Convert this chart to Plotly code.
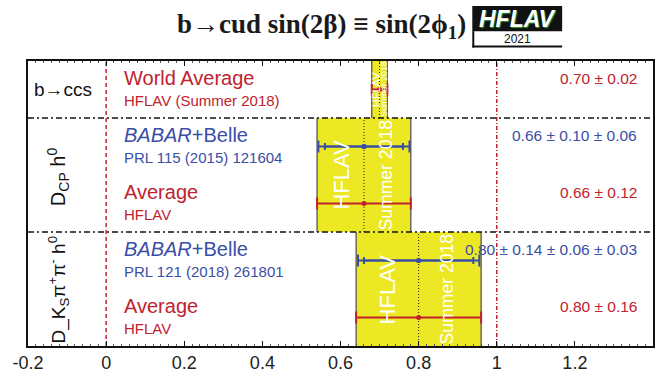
import math
import plotly.graph_objects as go

# ---------------- data ----------------
section_labels = ["b→ccs",
                  "D<sub>CP</sub> h<sup>0</sup>",
                  "D_K<sub>S</sub>π<sup>+</sup>π<sup>-</sup> h<sup>0</sup>"]
section_sizes = [1, 2, 2]
section_rotated = [False, True, True]

meas_titles = ["World Average", "<i>BABAR</i>+Belle", "Average", "<i>BABAR</i>+Belle", "Average"]
meas_refs = ["HFLAV (Summer 2018)", "PRL 115 (2015) 121604", "HFLAV", "PRL 121 (2018) 261801", "HFLAV"]
meas_value = [0.70, 0.66, 0.66, 0.80, 0.80]
meas_stat = [0.02, 0.10, 0.12, 0.14, 0.16]
meas_syst = [[], [0.06], [], [0.06, 0.03], []]
meas_kind = ["avg", "exp", "avg", "exp", "avg"]
meas_text = ["0.70 ± 0.02", "0.66 ± 0.10 ± 0.06", "0.66 ± 0.12",
             "0.80 ± 0.14 ± 0.06 ± 0.03", "0.80 ± 0.16"]

band_value = [0.70, 0.66, 0.80]
band_error = [0.02, 0.12, 0.16]
band_labels = ["HFLAV", "Summer 2018"]

x_ticks = [-0.2, 0, 0.2, 0.4, 0.6, 0.8, 1.0, 1.2]
x_tick_text = ["-0.2", "0", "0.2", "0.4", "0.6", "0.8", "1", "1.2"]
ref_lines = [0, 1]

# ---------------- styles ----------------
RED = "#c0222e"
BLUE = "#3a4ea6"
YELLOW = "#ede824"
SANS = "Liberation Sans, Arial, sans-serif"
XMIN, XMAX = -0.2, 1.4
NROWS = sum(section_sizes)

fig = go.Figure()
shapes = []
ann = []


def note(**kw):
    kw.setdefault("showarrow", False)
    kw.setdefault("xanchor", "center")
    kw.setdefault("yanchor", "middle")
    ann.append(kw)


# section boundaries
bounds = []
top = NROWS
for s in section_sizes:
    bounds.append((top - s, top))
    top -= s

# yellow bands
for (y0, y1), v, e, s in zip(bounds, band_value, band_error, section_sizes):
    shapes.append(dict(type="rect", xref="x", yref="y", x0=v - e, x1=v + e, y0=y0, y1=y1,
                       fillcolor=YELLOW, line=dict(width=0), layer="below"))
    for xe in (v - e, v + e):
        shapes.append(dict(type="line", xref="x", yref="y", x0=xe, x1=xe, y0=y0, y1=y1,
                           line=dict(color="#555555", width=1.3), layer="below"))
    shapes.append(dict(type="line", xref="x", yref="y", x0=v, x1=v, y0=y0, y1=y1,
                       line=dict(color="#222222", width=1, dash="1px,2px"), layer="below"))
    w = 2 * e
    ym = (y0 + y1) / 2
    note(x=v - e + 0.25 * w, y=ym, xref="x", yref="y", text=band_labels[0], textangle=-90,
         font=dict(family=SANS, size=11 * s, color="white"))
    note(x=v - e + 0.73 * w, y=ym, xref="x", yref="y", text=band_labels[1], textangle=-90,
         font=dict(family=SANS, size=8.8 * s, color="white"))

# reference vertical lines
for xr, d in zip(ref_lines, ["4px,3px", "4px,2px,1px,2px"]):
    shapes.append(dict(type="line", xref="x", yref="y", x0=xr, x1=xr, y0=0, y1=NROWS,
                       line=dict(color=RED, width=1.5, dash=d), layer="below"))

# separators
for (y0, y1) in bounds[:-1]:
    shapes.append(dict(type="line", xref="x", yref="y", x0=XMIN, x1=XMAX, y0=y0, y1=y0,
                       line=dict(color="#111111", width=1.4, dash="6px,3px,2px,3px"),
                       layer="above"))

# section labels
label_shift = [0.0, -0.03, 0.0]
label_size = [19, 20, 19]
for (y0, y1), lab, rot, sh, fs in zip(bounds, section_labels, section_rotated, label_shift, label_size):
    note(x=-0.11 if not rot else -0.122, y=(y0 + y1) / 2 + sh, xref="x", yref="y",
         text=lab, textangle=-90 if rot else 0,
         font=dict(family=SANS, size=fs, color="#111111"))

# measurements
for i, (v, st, sy, kind) in enumerate(zip(meas_value, meas_stat, meas_syst, meas_kind)):
    y = NROWS - 0.5 - i
    col = RED if kind == "avg" else BLUE
    tot = math.sqrt(st ** 2 + sum(x ** 2 for x in sy))
    fig.add_trace(go.Scatter(
        x=[v], y=[y], mode="markers", marker=dict(color=col, size=5),
        error_x=dict(type="data", array=[tot], color=col, thickness=2, width=6),
        showlegend=False, hoverinfo="skip"))
    if sy:
        fig.add_trace(go.Scatter(
            x=[v], y=[y], mode="markers", marker=dict(color=col, size=5),
            error_x=dict(type="data", array=[st], color=col, thickness=2, width=3.5),
            showlegend=False, hoverinfo="skip"))
    note(x=0.04, y=y + 0.2, xref="x", yref="y", xanchor="left", text=meas_titles[i],
         font=dict(family=SANS, size=20, color=col))
    note(x=0.04, y=y - 0.2, xref="x", yref="y", xanchor="left", text=meas_refs[i],
         font=dict(family=SANS, size=15, color=col))
    note(x=1.365, y=y + 0.19, xref="x", yref="y", xanchor="right", text=meas_text[i],
         font=dict(family=SANS, size=15.5, color=col))

# title and logo (pixel helpers)
PL, PR, PT, PB = 27, 653, 61, 357


def px(xp):
    return (xp - PL) / (PR - PL)


def py(yp):
    return (PB - yp) / (PB - PT)


note(x=px(468), y=py(25), xref="paper", yref="paper", xanchor="right",
     text="<b>b→cud sin(2β) ≡ sin(2ϕ<sub>1</sub>)</b>",
     font=dict(family="Liberation Serif, Times New Roman, serif", size=27, color="#1a1a1a"))

shapes.append(dict(type="rect", xref="paper", yref="paper", x0=px(472), x1=px(562), y0=py(30), y1=py(4),
                   fillcolor="#111111", line=dict(width=0), layer="below"))
shapes.append(dict(type="line", xref="paper", yref="paper", x0=px(473), x1=px(473), y0=py(47), y1=py(30),
                   line=dict(color="#111111", width=2), layer="below"))
shapes.append(dict(type="line", xref="paper", yref="paper", x0=px(472), x1=px(562), y0=py(46), y1=py(46),
                   line=dict(color="#111111", width=2), layer="below"))
note(x=px(517), y=py(17.5), xref="paper", yref="paper", text="<b><i>HFLAV</i></b>",
     font=dict(family=SANS, size=23, color="white", shadow="1px 1px 1px #2f9a3c"))
note(x=px(517), y=py(38.5), xref="paper", yref="paper", text="2021",
     font=dict(family=SANS, size=12, color="#111111"))

fig.update_layout(
    width=672, height=385,
    margin=dict(l=PL, r=672 - PR, t=PT, b=385 - PB),
    paper_bgcolor="white", plot_bgcolor="white",
    shapes=shapes, annotations=ann,
    xaxis=dict(range=[XMIN, XMAX], tickvals=x_ticks, ticktext=x_tick_text,
               showgrid=False, zeroline=False, showline=True, linecolor="#111111", linewidth=1.5,
               mirror="ticks", ticks="inside", ticklen=5, tickcolor="#111111",
               tickfont=dict(family=SANS, size=18, color="#222222"),
               minor=dict(dtick=0.02, ticks="inside", ticklen=2, tickcolor="#555555"),
               fixedrange=True),
    yaxis=dict(range=[0, NROWS], showgrid=False, zeroline=False, showline=True,
               linecolor="#111111", linewidth=1.5, mirror=True, showticklabels=False,
               ticks="", fixedrange=True),
)

fig.write_html("out.html")
